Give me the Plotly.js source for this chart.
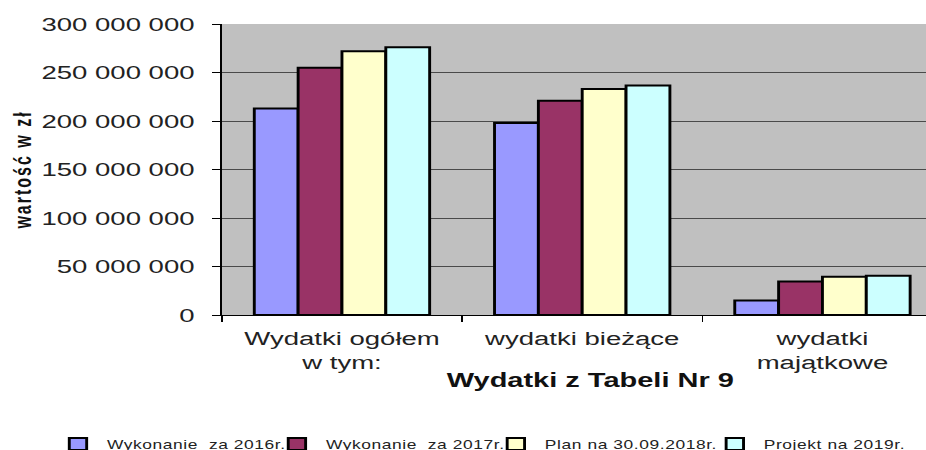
<!DOCTYPE html>
<html>
<head>
<meta charset="utf-8">
<script src="https://cdn.plot.ly/plotly-3.0.1.min.js"></script>
<style>
  html, body { margin: 0; padding: 0; background: #fff; overflow: hidden; }
  #wrap { width: 926px; height: 450px; overflow: hidden; }
  #chart { transform-origin: 0 0; }
  #chart .legendtext { letter-spacing: 0.4px; }
  #chart .ytitle { letter-spacing: 2px; }
</style>
</head>
<body>
<div id="wrap"><div id="chart"></div></div>
<script>
// ---- data ----
const categories = ['Wydatki ogółem<br>w tym:', 'wydatki bieżące', 'wydatki<br>majątkowe'];
const seriesNames = ['Wykonanie  za 2016r.', 'Wykonanie  za 2017r.', 'Plan na 30.09.2018r.', 'Projekt na 2019r.'];
const values2016 = [213000000, 198000000, 15000000];
const values2017 = [255000000, 221000000, 34500000];
const valuesPlan2018 = [272000000, 233000000, 39500000];
const valuesProjekt2019 = [276000000, 236500000, 40500000];
const yTickVals = [0, 50000000, 100000000, 150000000, 200000000, 250000000, 300000000];
const yTitle = 'wartość w zł';
const xTitle = 'Wydatki z Tabeli Nr 9';

// ---- layout / style ----
const S = 1.45;                 // horizontal stretch of the reference image
const W = 926 / S, H = 450;
const chartDiv = document.getElementById('chart');
chartDiv.style.width = W + 'px';
chartDiv.style.height = H + 'px';
chartDiv.style.transform = 'scaleX(' + S + ')';

const colors = ['#9999FF', '#993366', '#FFFFCC', '#CCFFFF'];
const allValues = [values2016, values2017, valuesPlan2018, valuesProjekt2019];
const font = 'Arial, "Liberation Sans", sans-serif';

const traces = allValues.map((vals, i) => ({
  type: 'bar',
  x: categories,
  y: vals,
  name: seriesNames[i],
  marker: { color: colors[i], line: { color: '#000', width: 2 } },
  hoverinfo: 'skip'
}));

const plotLeft = 222 / S;
const plotW = W - plotLeft;
const plotTop = 24, plotBottom = 315, plotH = plotBottom - plotTop;
const catPx = 240 / S;
const xMax = -0.5 + plotW / catPx;

const layout = {
  width: W,
  height: H,
  margin: { l: plotLeft, r: 0, t: plotTop, b: H - plotBottom, pad: 0, autoexpand: false },
  paper_bgcolor: '#ffffff',
  plot_bgcolor: '#c0c0c0',
  separators: ', ',
  barmode: 'group',
  bargap: 0.27,
  bargroupgap: 0,
  showlegend: true,
  font: { family: font, color: '#222' },
  xaxis: {
    type: 'category',
    range: [-0.5, xMax],
    tickson: 'boundaries',
    ticks: 'outside',
    ticklen: 6,
    tickcolor: '#000',
    tickwidth: 1,
    showline: true,
    linecolor: '#000',
    linewidth: 1,
    showgrid: false,
    tickfont: { family: font, size: 19, color: '#222' },
    ticklabelstandoff: 6,
    fixedrange: true
  },
  yaxis: {
    range: [0, 300000000],
    tickvals: yTickVals,
    tickformat: ',d',
    ticks: 'outside',
    ticklen: 6,
    tickcolor: '#000',
    tickwidth: 1,
    showline: true,
    linecolor: '#000',
    linewidth: 1,
    showgrid: true,
    gridcolor: '#4a4a4a',
    gridwidth: 1,
    zeroline: false,
    tickfont: { family: font, size: 19, color: '#222' },
    ticklabelstandoff: 8,
    title: { text: yTitle, font: { family: font, size: 16, weight: 'bold', color: '#111' }, standoff: 2 },
    fixedrange: true
  },
  legend: {
    orientation: 'h',
    xref: 'paper', yref: 'paper',
    x: (34 - plotLeft) / plotW, xanchor: 'left',
    y: (plotBottom - 444) / plotH, yanchor: 'middle',
    font: { family: font, size: 12, color: '#222' },
    bgcolor: 'rgba(0,0,0,0)',
    traceorder: 'normal',
    entrywidth: 106,
    entrywidthmode: 'pixels'
  },
  annotations: [{
    text: xTitle,
    xref: 'paper', yref: 'paper',
    x: (589.5 / S - plotLeft) / plotW,
    y: (plotBottom - 380) / plotH,
    xanchor: 'center', yanchor: 'middle',
    showarrow: false,
    font: { family: font, size: 20, weight: 'bold', color: '#111' }
  }]
};

Plotly.newPlot(chartDiv, traces, layout, { displayModeBar: false, staticPlot: true });
</script>
</body>
</html>
